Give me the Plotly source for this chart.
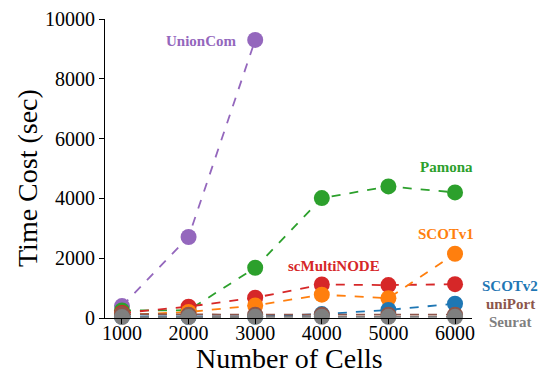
import plotly.graph_objects as go

cells = [1000, 2000, 3000, 4000, 5000, 6000]
yticks = [0, 2000, 4000, 6000, 8000, 10000]
unioncom = [400, 2710, 9300]
pamona = [250, 260, 1680, 4010, 4400, 4200]
scmultinode = [170, 380, 680, 1120, 1100, 1130]
scotv1 = [100, 200, 420, 780, 660, 2150]
scotv2 = [50, 40, 50, 130, 270, 480]
uniport = [130, 110, 110, 110, 110, 110]
seurat = [30, 30, 40, 40, 40, 40]

W, H = 539, 371
# target plot area in screenshot pixels: x 105..472, y 19..318
L, T = 105, 19
R = W - 472
B = H - 318
pw, ph = W - L - R, H - T - B

def px(x):
    return (x - L) / pw

def py(y):
    return (H - B - y) / ph

series = [
    ("UnionCom", cells[:3], unioncom, "#9467bd", 201, 41),
    ("Pamona", cells, pamona, "#2ca02c", 446, 167),
    ("scMultiNODE", cells, scmultinode, "#d62728", 334, 266),
    ("SCOTv1", cells, scotv1, "#ff7f0e", 446, 234),
    ("SCOTv2", cells, scotv2, "#1f77b4", 510, 286),
    ("uniPort", cells, uniport, "#8c564b", 510, 304),
    ("Seurat", cells, seurat, "#7f7f7f", 510, 322),
]

fig = go.Figure()
annotations = []
for name, xs, ys, col, ax, ay in series:
    fig.add_trace(go.Scatter(
        x=xs, y=ys, mode="lines+markers", name=name,
        line=dict(color=col, width=1.8, dash="dash"),
        marker=dict(color=col, size=16, line=dict(width=0)),
        cliponaxis=False,
    ))
    annotations.append(dict(
        x=px(ax), y=py(ay), xref="paper", yref="paper", text="<b>" + name + "</b>",
        showarrow=False, font=dict(color=col, size=15, family="Liberation Serif"),
        xanchor="center", yanchor="middle",
    ))

# axis titles placed explicitly
annotations.append(dict(
    x=px(289), y=py(376), xref="paper", yref="paper", text="Number of Cells",
    showarrow=False, font=dict(color="black", size=28, family="Liberation Serif"),
    xanchor="center", yanchor="bottom",
))
annotations.append(dict(
    x=px(27), y=py(178), xref="paper", yref="paper", text="Time Cost (sec)",
    showarrow=False, textangle=-90,
    font=dict(color="black", size=28, family="Liberation Serif"),
    xanchor="center", yanchor="middle",
))

fig.update_layout(
    width=W, height=H,
    margin=dict(l=L, r=R, t=T, b=B),
    paper_bgcolor="white", plot_bgcolor="white",
    showlegend=False,
    annotations=annotations,
    font=dict(family="Liberation Serif", color="black"),
    xaxis=dict(
        range=[745, 6255], tickvals=cells, ticktext=[str(c) for c in cells],
        showline=True, linecolor="black", linewidth=1.2,
        ticks="outside", ticklen=5, tickcolor="black", showgrid=False, zeroline=False,
        tickfont=dict(size=20), ticklabelstandoff=-8,
        automargin=False,
    ),
    yaxis=dict(
        range=[0, 10000], tickvals=yticks, ticktext=[str(v) for v in yticks],
        showline=True, linecolor="black", linewidth=1.2,
        ticks="outside", ticklen=5, tickcolor="black", showgrid=False, zeroline=False,
        tickfont=dict(size=20),
        automargin=False,
    ),
)

fig.write_html("out.html", config={"displayModeBar": False},
               post_script="document.body.style.margin='0';document.body.style.overflow='hidden';")
